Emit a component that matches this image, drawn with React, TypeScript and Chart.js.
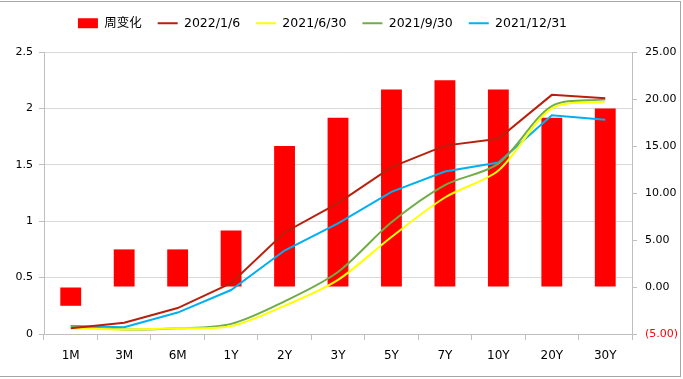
import React, { useEffect, useRef } from "react";
import { Chart, registerables } from "chart.js";

Chart.register(...registerables);

const categories = ["1M", "3M", "6M", "1Y", "2Y", "3Y", "5Y", "7Y", "10Y", "20Y", "30Y"];
const weeklyChange = [-2, 4, 4, 6, 15, 18, 21, 22, 21, 18, 19];
const curve20220106 = [0.05, 0.1, 0.23, 0.45, 0.9, 1.16, 1.48, 1.67, 1.73, 2.12, 2.09];
const curve20210630 = [0.05, 0.04, 0.05, 0.07, 0.25, 0.48, 0.86, 1.21, 1.45, 2.0, 2.06];
const curve20210930 = [0.07, 0.04, 0.05, 0.09, 0.29, 0.55, 0.99, 1.32, 1.51, 2.02, 2.08];
const curve20211231 = [0.07, 0.06, 0.19, 0.39, 0.74, 0.98, 1.26, 1.44, 1.52, 1.94, 1.9];

const FONT = "'DejaVu Sans', 'Noto Sans CJK SC', sans-serif";

export default function App() {
  const ref = useRef<HTMLCanvasElement | null>(null);

  useEffect(() => {
    document.body.style.margin = "0";
    const canvas = ref.current!;
    const frame = {
      id: "frame",
      beforeInit(chart: any) {
        const legend = chart.legend;
        if (legend) {
          const orig = legend.fit.bind(legend);
          legend.fit = function () {
            orig();
            this.height = 52;
          };
        }
      },
      afterLayout(chart: any) {
        const legend = chart.legend;
        if (legend) {
          legend.left -= 19;
          legend.right -= 19;
          legend.top += 1;
        }
      },
      beforeDraw(chart: any) {
        const ctx = chart.ctx;
        ctx.save();
        ctx.fillStyle = "#ffffff";
        ctx.fillRect(0, 0, chart.width, chart.height);
        ctx.strokeStyle = "#A6A6A6";
        ctx.lineWidth = 1;
        ctx.strokeRect(-1, 1.5, 681.5, 375);
        ctx.restore();
      },
    };
    const lineDs = (label: string, data: number[], color: string, tension: number) => ({
      type: "line" as const,
      label,
      data,
      borderColor: color,
      backgroundColor: color,
      borderWidth: 2,
      pointRadius: 0,
      tension,
      yAxisID: "y",
      order: 0,
      pointStyle: "line",
    });
    const chart = new Chart(canvas, {
      type: "bar",
      data: {
        labels: categories,
        datasets: [
          {
            type: "bar",
            label: "周变化",
            data: weeklyChange,
            backgroundColor: "#FF0000",
            borderColor: "#FF6666",
            borderWidth: 0,
            barPercentage: 0.78,
            categoryPercentage: 0.5,
            yAxisID: "y1",
            order: 1,
            pointStyle: "rect",
          } as any,
          lineDs("2022/1/6", curve20220106, "#B8200C", 0),
          lineDs("2021/6/30", curve20210630, "#FFFF00", 0.3),
          lineDs("2021/9/30", curve20210930, "#70AD47", 0.3),
          lineDs("2021/12/31", curve20211231, "#00B0F0", 0),
        ],
      },
      options: {
        responsive: false,
        animation: false,
        layout: { padding: { left: 0, right: 0, top: 0, bottom: 0 } },
        plugins: {
          tooltip: { enabled: false },
          legend: {
            position: "top",
            labels: {
              usePointStyle: true,
              pointStyleWidth: 20,
              boxHeight: 10,
              padding: 16,
              color: "#000",
              font: { family: FONT, size: 12.5 },
              sort: (a: any, b: any) => a.datasetIndex - b.datasetIndex,
            },
          },
        },
        scales: {
          x: {
            grid: {
              offset: true,
              drawOnChartArea: false,
              tickLength: 6,
              color: "#BFBFBF",
            },
            border: { color: "#BFBFBF" },
            ticks: { color: "#000", padding: 9, font: { family: FONT, size: 12 } },
            afterFit: (s: any) => {
              s.height = 45;
            },
          },
          y: {
            position: "left",
            min: 0,
            max: 2.5,
            ticks: {
              stepSize: 0.5,
              color: "#000",
              padding: 6,
              font: { family: FONT, size: 11 },
              callback: (v: any) => String(Number(v)),
            },
            grid: { color: "#D9D9D9", tickLength: 5, tickColor: "#BFBFBF" },
            border: { color: "#BFBFBF" },
            afterFit: (s: any) => {
              s.width = 44;
            },
          },
          y1: {
            position: "right",
            min: -5,
            max: 25,
            ticks: {
              stepSize: 5,
              padding: 8,
              font: { family: FONT, size: 11 },
              color: (c: any) => (c.tick && c.tick.value < 0 ? "#FF0000" : "#000"),
              callback: (v: any) => {
                const n = Number(v);
                return n < 0 ? "(" + Math.abs(n).toFixed(2) + ")" : n.toFixed(2);
              },
            },
            grid: { drawOnChartArea: false, tickLength: 5, color: "#BFBFBF" },
            border: { color: "#BFBFBF" },
            afterFit: (s: any) => {
              s.width = 51;
            },
          },
        },
      },
      plugins: [frame],
    } as any);
    return () => chart.destroy();
  }, []);

  return (
    <div style={{ width: 683, height: 379 }}>
      <canvas ref={ref} width={683} height={379} style={{ display: "block" }} />
    </div>
  );
}
